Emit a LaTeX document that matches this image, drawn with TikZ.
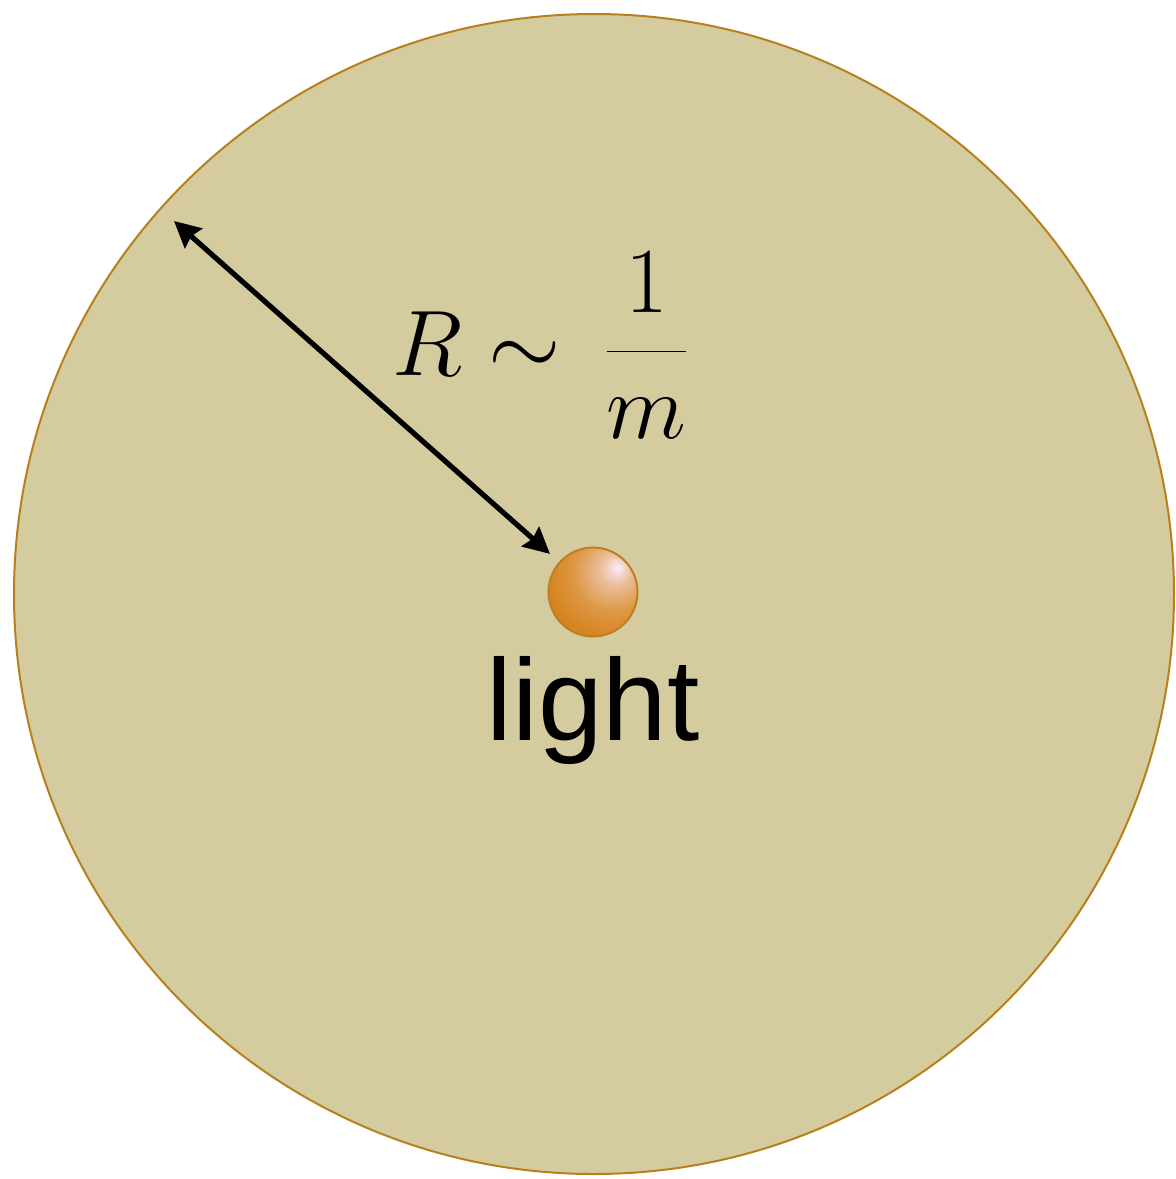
\documentclass[tikz,border=0pt]{standalone}
\usepackage{graphicx}
\usepackage{xcolor}
\usepackage{fontspec}
\usepackage{tikz}
\usetikzlibrary{arrows.meta,positioning}
\newfontfamily\labelfont{Liberation Sans}
\definecolor{sandfill}{RGB}{212,204,158}
\definecolor{sandrim}{RGB}{184,128,28}
\definecolor{ballorange}{RGB}{215,133,35}
\definecolor{ballrim}{RGB}{188,128,30}
\definecolor{ballglow}{RGB}{250,236,250}
\pgfdeclareradialshading{lightball}{\pgfqpoint{14bp}{14bp}}{%
  color(0bp)=(ballglow); color(9bp)=(ballorange!45!ballglow);
  color(22bp)=(ballorange!85!white); color(34bp)=(ballorange);
  color(50bp)=(ballorange!92!black); color(100bp)=(ballorange!80!black)}

\begin{document}
\begin{tikzpicture}[
  x=0.5pt, y=-0.5pt,
  disk/.style={circle, draw=sandrim, line width=1pt, fill=sandfill, inner sep=0pt},
  ballsty/.style={circle, draw=ballrim, line width=1pt, shading=lightball, inner sep=0pt},
  radius arrow/.style={{Stealth[length=13pt,width=13pt,inset=1.5pt]}-{Stealth[length=13pt,width=13pt,inset=1.5pt]}, line width=2.6pt},
]
  \useasboundingbox (0,0) rectangle (1176,1179);

  % ---- Disk ----
  \node[disk, minimum size=580pt] (disk) at (594,594) {};

  % ---- Particle ----
  \node[ballsty, minimum size=44.5pt] (ball) at (593,592) {};
  \node[anchor=base, inner sep=0pt, font=\labelfont\fontsize{58}{64}\selectfont] (lbl) at (593,740) {light};

  % ---- Radius ----
  \coordinate (rim) at (174,221);
  \draw[radius arrow, shorten >=6pt] (rim) -- (ball);
  \node[anchor=base west, inner sep=0pt, font=\fontsize{24.88}{30}\selectfont] (size) at (392,375)
    {\scalebox{1.87}{$\displaystyle R\sim\mkern3mu\frac{1}{m}$}};
\end{tikzpicture}
\end{document}
